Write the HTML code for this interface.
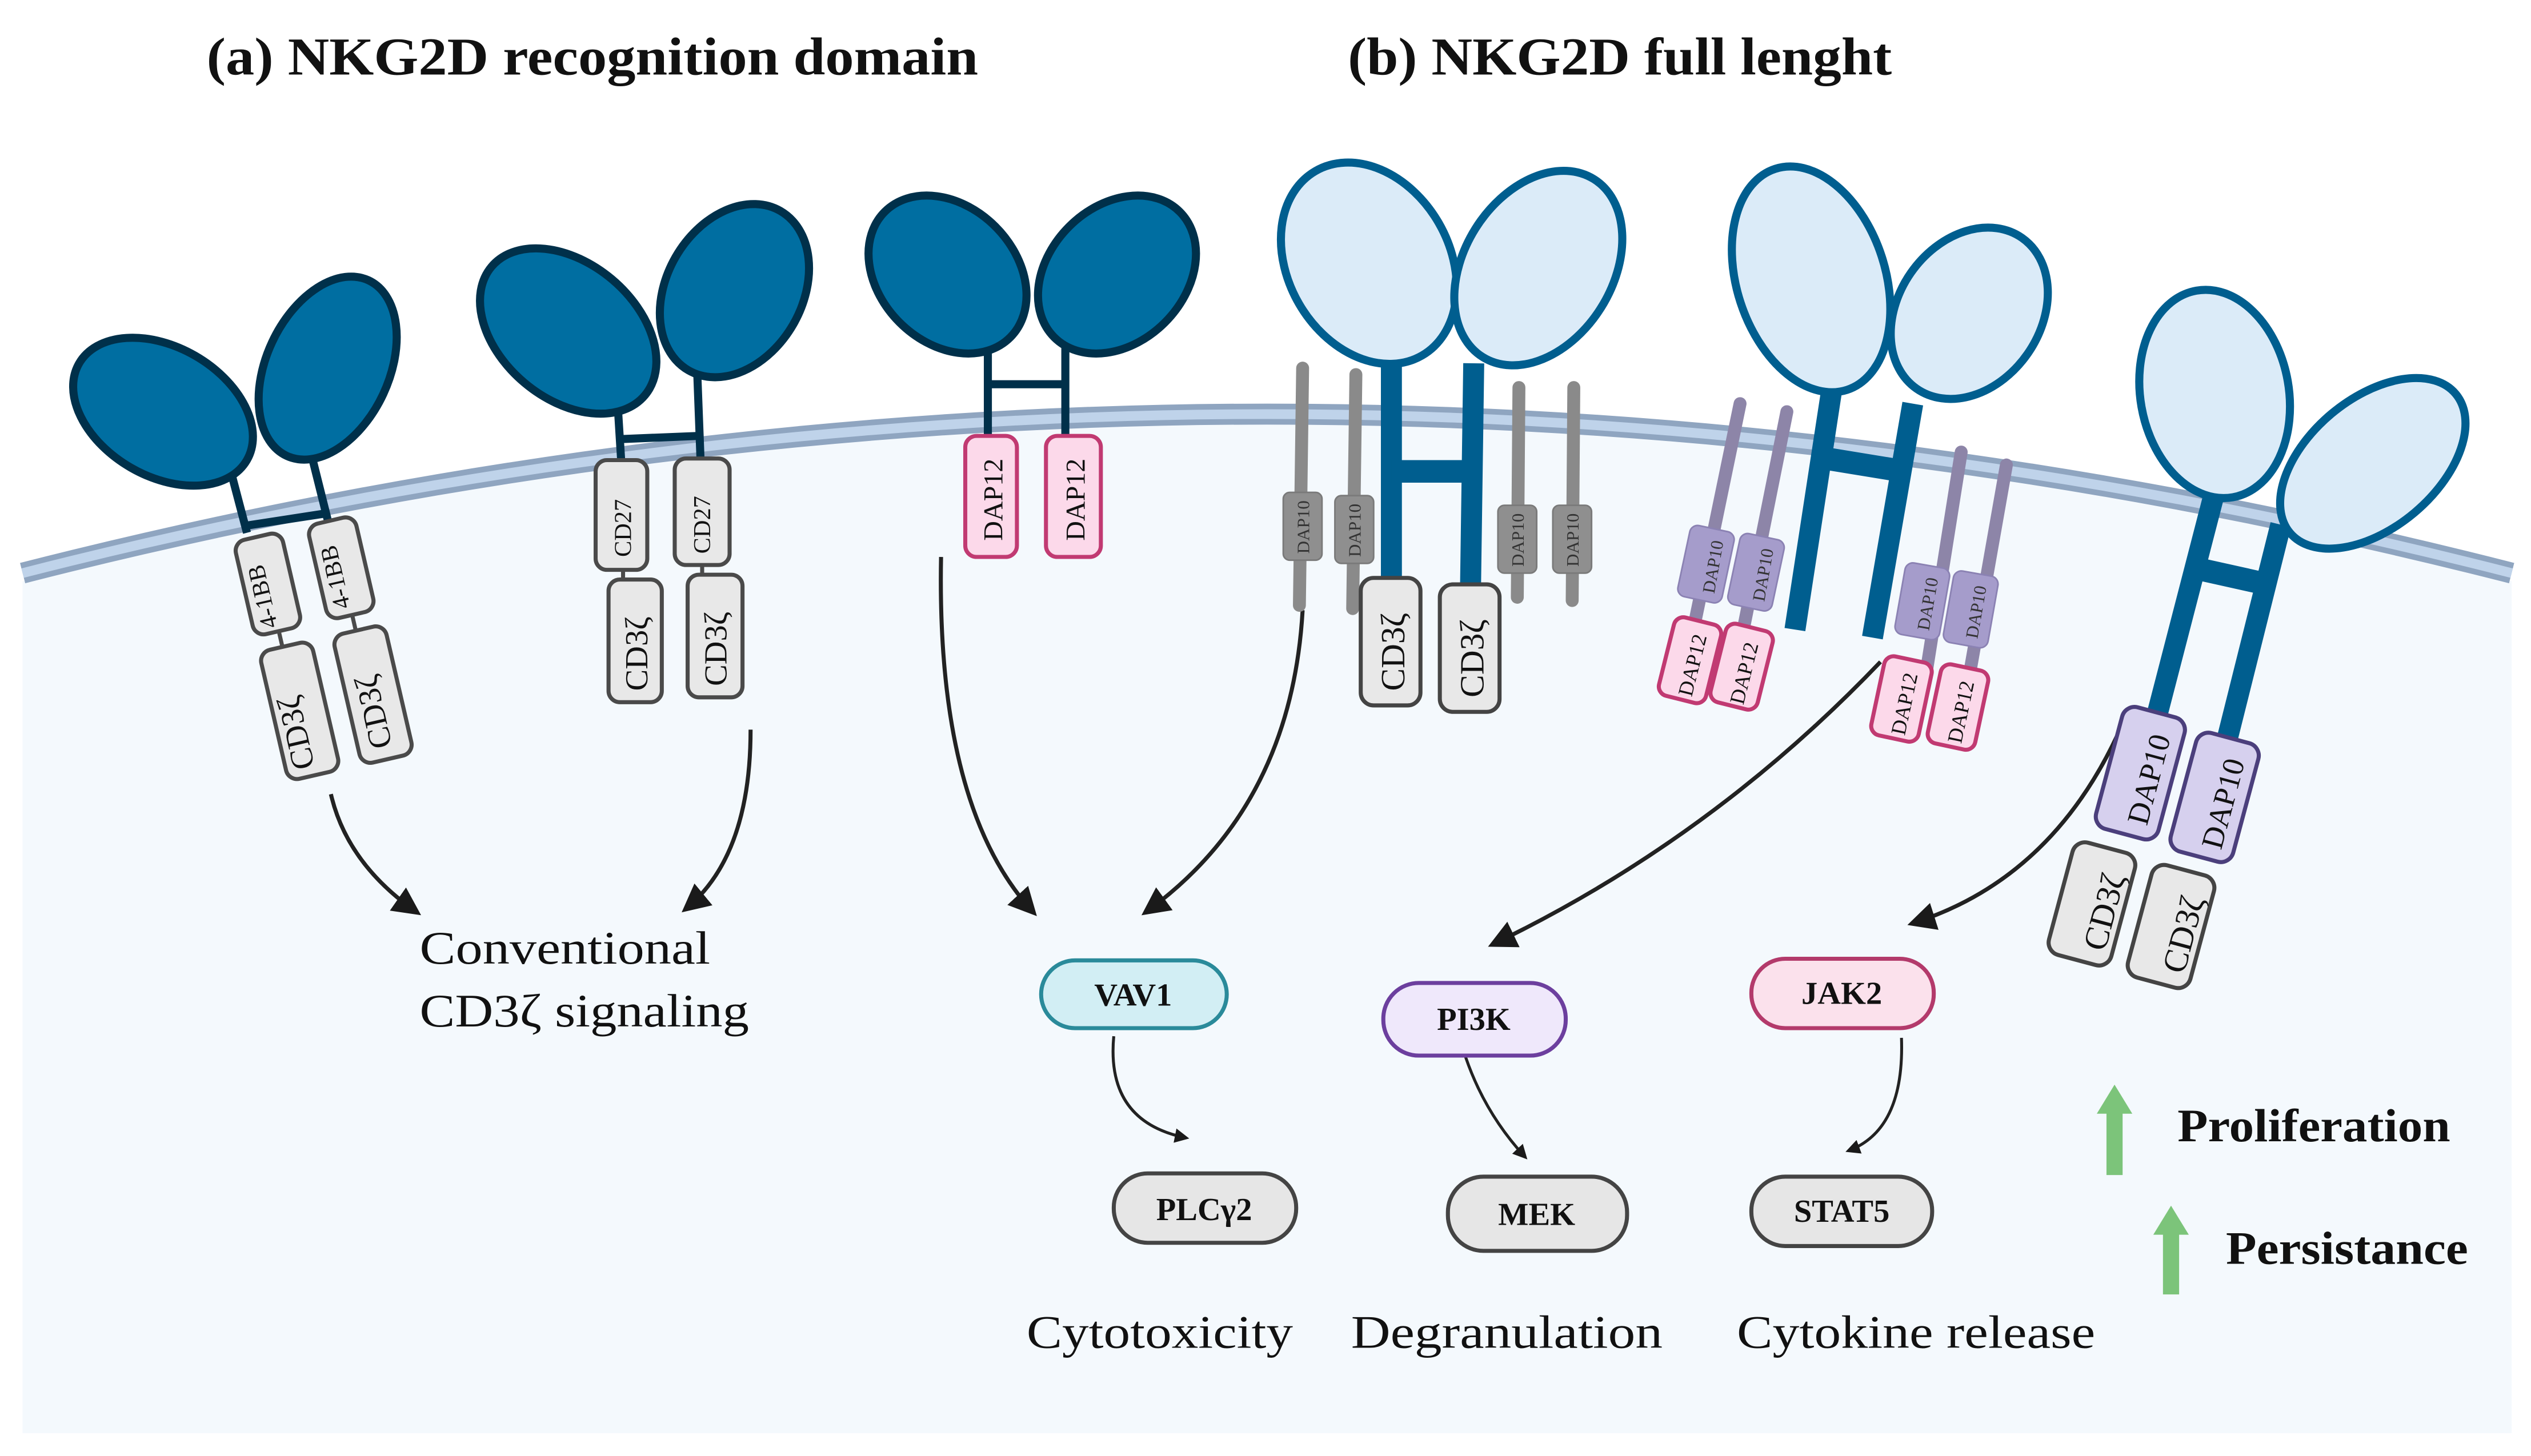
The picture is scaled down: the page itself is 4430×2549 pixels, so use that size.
<!DOCTYPE html>
<html><head><meta charset="utf-8"><style>
html,body{margin:0;padding:0;background:#fff}
svg{display:block}
text{font-family:"Liberation Serif",serif}
</style></head><body>
<svg width="4430" height="2549" viewBox="0 0 1568 902" xmlns="http://www.w3.org/2000/svg">
<defs>
<marker id="ah" viewBox="0 0 10 10" refX="8" refY="5" markerWidth="5" markerHeight="5" orient="auto"><path d="M0,0 L10,5 L0,10 Z" fill="#1a1a1a"/></marker>
<marker id="ah2" viewBox="0 0 10 10" refX="8" refY="5" markerWidth="7" markerHeight="7" orient="auto"><path d="M0,0 L10,5 L0,10 Z" fill="#1a1a1a"/></marker>
</defs>
<rect width="1568" height="902" fill="#fff"/>
<path d="M14,360 Q785,163 1556,360 L1556,888 L14,888 Z" fill="#f4f9fd"/>
<path d="M14,355 Q785,158 1556,355" fill="none" stroke="#8fa5c0" stroke-width="13"/>
<path d="M14,355 Q785,158 1556,355" fill="none" stroke="#bfd3ea" stroke-width="6"/>

<text x="128" y="46" font-size="33" font-weight="bold" fill="#111" textLength="478" lengthAdjust="spacingAndGlyphs">(a) NKG2D recognition domain</text>
<text x="835" y="46" font-size="33" font-weight="bold" fill="#111" textLength="337" lengthAdjust="spacingAndGlyphs">(b) NKG2D full lenght</text>

<!-- arrows -->
<g fill="none" stroke="#222" stroke-width="2.5">
<path d="M205,492 Q215,535 258,565" marker-end="url(#ah2)"/>
<path d="M465,452 Q465,530 425,563" marker-end="url(#ah2)"/>
<path d="M583,345 Q580,500 640,565" marker-end="url(#ah2)"/>
<path d="M807,378 Q800,500 710,565" marker-end="url(#ah2)"/>
<path d="M1165,410 Q1060,520 925,585" marker-end="url(#ah2)"/>
<path d="M1312,455 Q1270,545 1185,572" marker-end="url(#ah2)"/>
<path d="M690,642 Q685,695 735,705" stroke-width="1.8" marker-end="url(#ah)"/>
<path d="M908,655 Q920,690 945,717" stroke-width="1.8" marker-end="url(#ah)"/>
<path d="M1178,643 Q1180,700 1145,713" stroke-width="1.8" marker-end="url(#ah)"/>
</g>

<!-- Receptor 1 -->
<g stroke="#00304a" stroke-width="5">
<path d="M143,292 L153,330 M193,282 L203,322 M150,326 L202,318" fill="none"/>
<ellipse cx="101" cy="255" rx="60" ry="40" transform="rotate(30 101 255)" fill="#006ea1"/>
<ellipse cx="203" cy="228" rx="38" ry="60" transform="rotate(25 203 228)" fill="#006ea1"/>
</g>
<g stroke="#4a4a4a" stroke-width="2.5" fill="#e8e8e8">
<g transform="rotate(-13 165 362)"><rect x="151" y="332" width="30" height="60" rx="7"/><line x1="166" y1="392" x2="166" y2="402"/><rect x="151" y="402" width="33" height="82" rx="7"/></g>
<g transform="rotate(-13 210 350)"><rect x="196" y="322" width="30" height="60" rx="7"/><line x1="211" y1="382" x2="211" y2="392"/><rect x="196" y="392" width="33" height="82" rx="7"/></g>
</g>
<g font-size="15" fill="#111">
<text transform="translate(172,388) rotate(-103)">4-1BB</text>
<text transform="translate(217,376) rotate(-103)">4-1BB</text>
<text font-size="20" transform="translate(195,475) rotate(-103)">CD3ζ</text>
<text font-size="20" transform="translate(243,462) rotate(-103)">CD3ζ</text>
</g>

<!-- Receptor 2 -->
<g stroke="#00304a" stroke-width="5">
<path d="M382,240 L385,288 M432,232 L434,285 M384,272 L433,270" fill="none"/>
<ellipse cx="352" cy="205" rx="62" ry="42" transform="rotate(40 352 205)" fill="#006ea1"/>
<ellipse cx="455" cy="180" rx="42" ry="57" transform="rotate(30 455 180)" fill="#006ea1"/>
</g>
<g stroke="#4a4a4a" stroke-width="2.5" fill="#e8e8e8">
<rect x="369" y="285" width="32" height="68" rx="7"/><line x1="386" y1="353" x2="386" y2="359"/><rect x="377" y="359" width="33" height="76" rx="7"/>
<rect x="418" y="284" width="34" height="66" rx="7"/><line x1="435" y1="350" x2="435" y2="356"/><rect x="426" y="356" width="34" height="76" rx="7"/>
</g>
<g font-size="15" fill="#111">
<text transform="translate(391,345) rotate(-90)">CD27</text>
<text transform="translate(440,343) rotate(-90)">CD27</text>
<text font-size="20" transform="translate(401,428) rotate(-90)">CD3ζ</text>
<text font-size="20" transform="translate(450,425) rotate(-90)">CD3ζ</text>
</g>

<!-- Receptor 3 -->
<g stroke="#00304a" stroke-width="5">
<path d="M612,215 L612,272 M660,215 L660,272 M612,238 L660,238" fill="none"/>
<ellipse cx="587" cy="170" rx="55" ry="42" transform="rotate(45 587 170)" fill="#006ea1"/>
<ellipse cx="692" cy="170" rx="55" ry="42" transform="rotate(-45 692 170)" fill="#006ea1"/>
</g>
<g stroke="#c13a72" stroke-width="2.5" fill="#fcd9ea">
<rect x="598" y="270" width="32" height="75" rx="7"/><rect x="648" y="270" width="34" height="75" rx="7"/>
</g>
<g font-size="17" fill="#111">
<text transform="translate(621,335) rotate(-90)">DAP12</text>
<text transform="translate(672,335) rotate(-90)">DAP12</text>
</g>

<!-- Receptor 4 -->
<g stroke="#8a8a8a" stroke-width="8" stroke-linecap="round">
<line x1="807" y1="228" x2="805" y2="375"/><line x1="840" y1="232" x2="838" y2="377"/>
<line x1="941" y1="240" x2="940" y2="370"/><line x1="975" y1="240" x2="974" y2="372"/>
</g>
<g fill="#8f8f8f" stroke="#7a7a7a" stroke-width="1">
<rect x="795" y="305" width="24" height="42" rx="4"/><rect x="827" y="307" width="24" height="42" rx="4"/>
<rect x="928" y="313" width="24" height="42" rx="4"/><rect x="962" y="313" width="24" height="42" rx="4"/>
</g>
<g font-size="11" fill="#333">
<text transform="translate(811,343) rotate(-90)">DAP10</text><text transform="translate(843,345) rotate(-90)">DAP10</text>
<text transform="translate(944,351) rotate(-90)">DAP10</text><text transform="translate(978,351) rotate(-90)">DAP10</text>
</g>
<g stroke="#005e8f" stroke-width="13" fill="none"><path d="M862,222 L862,362 M913,225 L911,365"/><path d="M862,292 L912,292" stroke-width="14"/></g>
<g stroke="#005e8f" stroke-width="5" fill="#dbebf8">
<ellipse cx="848" cy="163" rx="50" ry="66" transform="rotate(-30 848 163)"/>
<ellipse cx="953" cy="166" rx="46" ry="65" transform="rotate(32 953 166)"/>
</g>
<g stroke="#444" stroke-width="2.5" fill="#e8e8e8">
<rect x="843" y="358" width="37" height="79" rx="8"/><rect x="892" y="362" width="37" height="79" rx="8"/>
</g>
<g font-size="21" fill="#111"><text transform="translate(870,428) rotate(-90)">CD3ζ</text><text transform="translate(919,432) rotate(-90)">CD3ζ</text></g>

<!-- Receptor 5 -->
<g stroke="#8d85a8" stroke-width="8" stroke-linecap="round">
<line x1="1078" y1="250" x2="1047" y2="400"/><line x1="1107" y1="255" x2="1076" y2="410"/>
<line x1="1215" y1="280" x2="1192" y2="425"/><line x1="1243" y1="288" x2="1218" y2="430"/>
</g>
<g fill="#a59ccb" stroke="#8b82b3" stroke-width="1">
<rect x="1043" y="327" width="28" height="45" rx="5" transform="rotate(12 1057 349)"/>
<rect x="1074" y="332" width="28" height="45" rx="5" transform="rotate(12 1088 354)"/>
<rect x="1177" y="350" width="28" height="45" rx="5" transform="rotate(10 1191 372)"/>
<rect x="1207" y="355" width="28" height="45" rx="5" transform="rotate(10 1221 377)"/>
</g>
<g font-size="11" fill="#333">
<text transform="translate(1062,368) rotate(-80)">DAP10</text><text transform="translate(1093,373) rotate(-80)">DAP10</text>
<text transform="translate(1195,391) rotate(-80)">DAP10</text><text transform="translate(1225,396) rotate(-80)">DAP10</text>
</g>
<g stroke="#c13a72" stroke-width="2.5" fill="#fcd9ea">
<rect x="1032" y="384" width="30" height="50" rx="6" transform="rotate(14 1047 409)"/>
<rect x="1064" y="388" width="30" height="50" rx="6" transform="rotate(14 1079 413)"/>
<rect x="1163" y="408" width="30" height="50" rx="6" transform="rotate(12 1178 433)"/>
<rect x="1198" y="413" width="30" height="50" rx="6" transform="rotate(12 1213 438)"/>
</g>
<g font-size="13" fill="#111">
<text transform="translate(1048,432) rotate(-76)">DAP12</text><text transform="translate(1080,437) rotate(-76)">DAP12</text>
<text transform="translate(1180,456) rotate(-78)">DAP12</text><text transform="translate(1215,461) rotate(-78)">DAP12</text>
</g>
<g stroke="#005e8f" stroke-width="13" fill="none"><path d="M1135,240 L1112,390 M1185,250 L1160,395"/><path d="M1125,283 L1180,292" stroke-width="14"/></g>
<g stroke="#005e8f" stroke-width="5" fill="#dbebf8">
<ellipse cx="1122" cy="173" rx="46" ry="72" transform="rotate(-18 1122 173)"/>
<ellipse cx="1220" cy="194" rx="44" ry="57" transform="rotate(35 1220 194)"/>
</g>

<!-- Receptor 6 -->
<g stroke="#005e8f" stroke-width="13" fill="none"><path d="M1372,305 L1335,448 M1413,325 L1378,465"/><path d="M1360,352 L1405,362" stroke-width="14"/></g>
<g stroke="#005e8f" stroke-width="5" fill="#dbebf8">
<ellipse cx="1372" cy="244" rx="46" ry="65" transform="rotate(-10 1372 244)"/>
<ellipse cx="1470" cy="287" rx="40" ry="67" transform="rotate(50 1470 287)"/>
</g>
<g stroke="#4b3f7c" stroke-width="2.5" fill="#d6d0ee">
<rect x="1306" y="440" width="40" height="78" rx="8" transform="rotate(15 1326 479)"/>
<rect x="1352" y="456" width="40" height="76" rx="8" transform="rotate(15 1372 494)"/>
</g>
<g stroke="#444" stroke-width="2.5" fill="#e8e8e8">
<rect x="1276" y="524" width="40" height="72" rx="8" transform="rotate(15 1296 560)"/>
<rect x="1325" y="538" width="40" height="72" rx="8" transform="rotate(15 1345 574)"/>
</g>
<g font-size="19" fill="#111">
<text transform="translate(1330,512) rotate(-75)">DAP10</text><text transform="translate(1376,527) rotate(-75)">DAP10</text>
<text font-size="21" transform="translate(1304,590) rotate(-75)">CD3ζ</text><text font-size="21" transform="translate(1353,604) rotate(-75)">CD3ζ</text>
</g>

<!-- nodes -->
<g stroke-width="2.5">
<rect x="645" y="595" width="115" height="42" rx="21" fill="#d2eef4" stroke="#2a8a9a"/>
<rect x="857" y="609" width="113" height="45" rx="22" fill="#efe8fb" stroke="#6c3f9e"/>
<rect x="1085" y="594" width="113" height="43" rx="21" fill="#fbe1ec" stroke="#b33a6b"/>
<rect x="690" y="727" width="113" height="43" rx="21" fill="#e6e6e6" stroke="#444"/>
<rect x="897" y="729" width="111" height="46" rx="22" fill="#e6e6e6" stroke="#444"/>
<rect x="1085" y="729" width="112" height="43" rx="21" fill="#e6e6e6" stroke="#444"/>
</g>
<g font-size="20" font-weight="bold" fill="#111" text-anchor="middle">
<text x="702" y="623">VAV1</text><text x="913" y="638">PI3K</text><text x="1141" y="622">JAK2</text>
<text x="746" y="756" font-family="Liberation Sans,sans-serif">PLCγ2</text><text x="952" y="759">MEK</text><text x="1141" y="757">STAT5</text>
</g>

<g font-size="29" fill="#111">
<text x="260" y="597" textLength="180" lengthAdjust="spacingAndGlyphs">Conventional</text>
<text x="260" y="636" textLength="204" lengthAdjust="spacingAndGlyphs">CD3ζ signaling</text>
<text x="636" y="835" textLength="165" lengthAdjust="spacingAndGlyphs">Cytotoxicity</text>
<text x="837" y="835" textLength="193" lengthAdjust="spacingAndGlyphs">Degranulation</text>
<text x="1076" y="835" textLength="222" lengthAdjust="spacingAndGlyphs">Cytokine release</text>
</g>
<g fill="#7cc47a">
<path d="M1305,728 L1305,690 L1299,690 L1310,672 L1321,690 L1315,690 L1315,728 Z"/>
<path d="M1340,802 L1340,765 L1334,765 L1345,747 L1356,765 L1350,765 L1350,802 Z"/>
</g>
<text x="1349" y="707" font-size="29" font-weight="bold" fill="#111" textLength="169" lengthAdjust="spacingAndGlyphs">Proliferation</text>
<text x="1379" y="783" font-size="29" font-weight="bold" fill="#111" textLength="150" lengthAdjust="spacingAndGlyphs">Persistance</text>
</svg>
</body></html>
